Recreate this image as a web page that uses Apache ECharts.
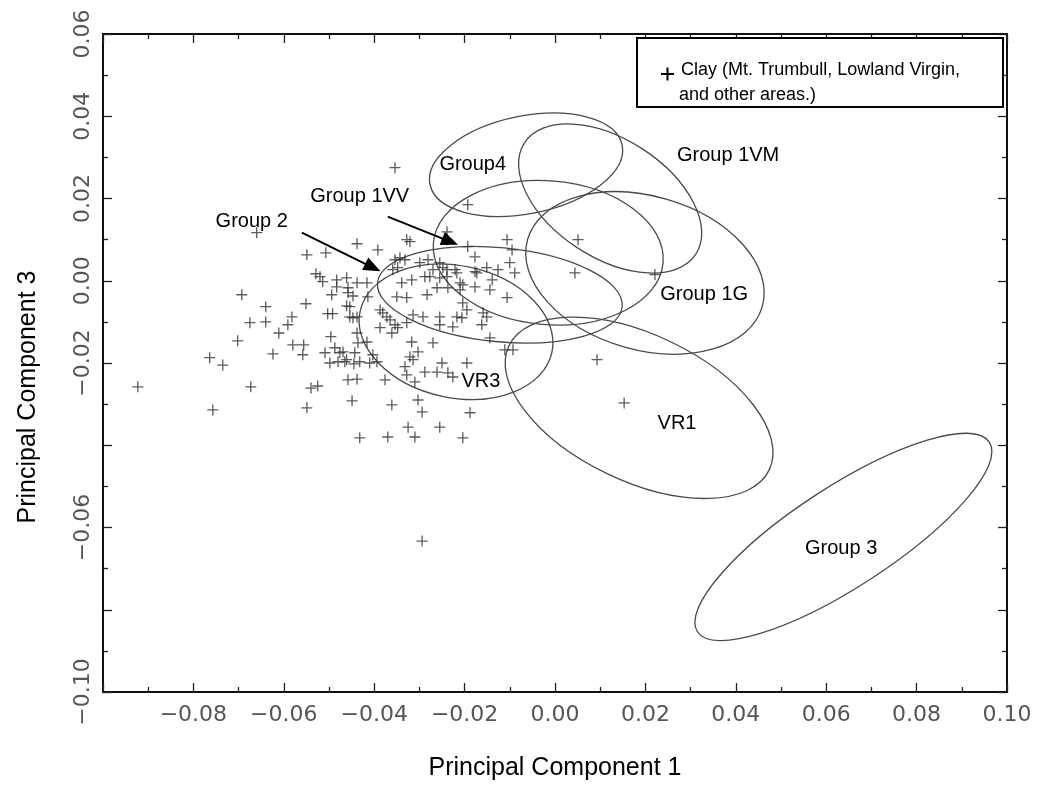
<!DOCTYPE html>
<html><head><meta charset="utf-8">
<script src="https://cdn.jsdelivr.net/npm/echarts@6/dist/echarts.min.js"></script>
<style>html,body{margin:0;padding:0;background:#fff}#c{width:1037px;height:791px}</style>
</head><body><div id="c"></div>
<script>
// ---- data (Principal Component 1, Principal Component 3) ----
const clayPoints = [
[-0.0923,-0.0258],[-0.0764,-0.0187],[-0.0735,-0.0205],[-0.0757,-0.0314],[-0.0673,-0.0258],[-0.0702,-0.0146],[-0.0693,-0.0034],[-0.0675,-0.0102],[-0.0640,-0.0063],[-0.0640,-0.0100],
[-0.0611,-0.0127],[-0.0624,-0.0178],[-0.0591,-0.0107],[-0.0582,-0.0088],[-0.0580,-0.0156],[-0.0556,-0.0156],[-0.0558,-0.0180],[-0.0551,-0.0056],[-0.0549,0.0063],[-0.0507,0.0068],
[-0.0660,0.0117],[-0.0529,0.0017],[-0.0520,0.0010],[-0.0514,-0.0002],[-0.0483,0.0002],[-0.0483,-0.0015],[-0.0461,0.0007],[-0.0494,-0.0034],[-0.0458,-0.0029],[-0.0447,-0.0037],
[-0.0461,-0.0061],[-0.0503,-0.0080],[-0.0492,-0.0080],[-0.0454,-0.0088],[-0.0438,-0.0088],[-0.0496,-0.0136],[-0.0487,-0.0163],[-0.0509,-0.0175],[-0.0476,-0.0175],[-0.0498,-0.0200],
[-0.0480,-0.0197],[-0.0465,-0.0197],[-0.0443,-0.0175],[-0.0445,-0.0202],[-0.0540,-0.0261],[-0.0525,-0.0256],[-0.0549,-0.0309],[-0.0458,-0.0241],[-0.0438,-0.0239],[-0.0449,-0.0292],
[-0.0438,0.0090],[-0.0438,-0.0127],
[-0.0193,0.0185],[-0.0239,0.0119],[-0.0239,0.0100],[-0.0106,0.0100],[-0.0095,0.0075],[-0.0193,0.0083],[-0.0177,0.0058],[-0.0392,0.0075],[-0.0328,0.0100],[-0.0321,0.0095],
[-0.0438,-0.0005],[-0.0416,-0.0005],[-0.0354,0.0051],[-0.0343,0.0056],[-0.0332,0.0051],[-0.0359,0.0027],[-0.0348,0.0032],[-0.0299,0.0044],[-0.0281,0.0051],[-0.0270,0.0027],
[-0.0255,0.0044],[-0.0248,0.0032],[-0.0239,0.0027],[-0.0221,0.0027],[-0.0217,0.0019],[-0.0177,0.0022],[-0.0173,0.0019],[-0.0151,0.0032],[-0.0126,0.0027],[-0.0100,0.0044],
[-0.0089,0.0019],[-0.0339,-0.0005],[-0.0317,0.0002],[-0.0288,0.0010],[-0.0277,0.0010],[-0.0255,0.0007],[-0.0239,0.0010],[-0.0210,-0.0005],[-0.0204,-0.0010],[-0.0177,-0.0015],
[-0.0139,0.0002],[-0.0458,-0.0017],[-0.0414,-0.0039],[-0.0350,-0.0039],[-0.0328,-0.0041],[-0.0283,-0.0034],[-0.0261,-0.0017],[-0.0237,-0.0017],[-0.0210,-0.0022],[-0.0144,-0.0022],
[-0.0106,-0.0041],[-0.0454,-0.0063],[-0.0387,-0.0071],[-0.0381,-0.0078],[-0.0314,-0.0083],[-0.0292,-0.0088],[-0.0255,-0.0088],[-0.0204,-0.0054],[-0.0195,-0.0071],[-0.0217,-0.0088],
[-0.0206,-0.0090],[-0.0159,-0.0078],[-0.0151,-0.0088],[-0.0162,-0.0107],[-0.0447,-0.0090],[-0.0372,-0.0088],[-0.0365,-0.0095],[-0.0354,-0.0107],[-0.0348,-0.0114],[-0.0387,-0.0114],
[-0.0328,-0.0102],[-0.0255,-0.0107],[-0.0226,-0.0112],[-0.0144,-0.0139],[-0.0111,-0.0168],[-0.0093,-0.0168],[-0.0436,-0.0151],[-0.0416,-0.0149],[-0.0361,-0.0127],[-0.0317,-0.0149],
[-0.0303,-0.0173],[-0.0270,-0.0151],[-0.0469,-0.0173],[-0.0403,-0.0180],[-0.0394,-0.0197],[-0.0321,-0.0185],[-0.0314,-0.0192],[-0.0461,-0.0192],[-0.0432,-0.0197],[-0.0410,-0.0200],
[-0.0332,-0.0209],[-0.0250,-0.0200],[-0.0195,-0.0200],[-0.0288,-0.0222],[-0.0261,-0.0222],[-0.0237,-0.0224],[-0.0226,-0.0234],[-0.0376,-0.0241],[-0.0328,-0.0229],[-0.0310,-0.0246],
[-0.0303,-0.0290],[-0.0361,-0.0302],[-0.0294,-0.0319],[-0.0188,-0.0321],[-0.0325,-0.0356],[-0.0310,-0.0380],[-0.0255,-0.0356],[-0.0432,-0.0382],[-0.0370,-0.0380],[-0.0204,-0.0382],
[0.0051,0.0100],[0.0044,0.0019],[0.0093,-0.0192],[0.0221,0.0015],[0.0153,-0.0297],[-0.0294,-0.0633],[-0.0354,0.0275]
];

// confidence ellipses: centre (PC1, PC3), semi-axes (in PC1 units), tilt in degrees
const groupNames      = ['Group4','Group 1VM','Group 1VV','Group 2','Group 1G','VR3','VR1','Group 3'];
const ellipseCenterX  = [-0.0064, 0.0122, -0.0015, -0.0122, 0.0199, -0.0219, 0.0186, 0.0638];
const ellipseCenterY  = [ 0.0282, 0.0200,  0.0068, -0.0034, 0.0019, -0.0124, -0.0309, -0.0623];
const ellipseSemiMajor= [ 0.0217, 0.0226,  0.0255,  0.0272, 0.0270,  0.0217, 0.0319, 0.0385];
const ellipseSemiMinor= [ 0.0108, 0.0131,  0.0159,  0.0104, 0.0170,  0.0146, 0.0162, 0.0111];
const ellipseTilt     = [ 11.6,  -33,     -5,      -5.6,   -16,     -12,    -25.5,   33];

// group label positions
const labelX = [-0.0182, 0.0383, -0.0432, -0.0671, 0.0330, -0.0164, 0.0270, 0.0633];
const labelY = [ 0.0282, 0.0304,  0.0205,  0.0144, -0.0034, -0.0246, -0.0346, -0.0650];

// arrows (start -> end) for Group 2 and Group 1VV
const arrowStart = [[-0.0560, 0.0117], [-0.0370, 0.0156]];
const arrowEnd   = [[-0.0403, 0.0032], [-0.0232, 0.0095]];

// axis ticks
const xMin = -0.10, xMax = 0.10, xStep = 0.02;
const yMin = -0.10, yMax = 0.06, yStep = 0.02;
const xTickLabels = ['−0.08','−0.06','−0.04','−0.02','0.00','0.02','0.04','0.06','0.08','0.10'];
const yTickLabels = ['0.06','0.04','0.02','0.00','−0.02','−0.06','−0.10'];

function fmt(v){ return (v < -1e-9 ? '−' : '') + Math.abs(v).toFixed(2); }
function labelFor(list){ return v => { const s = fmt(v); return list.indexOf(s) >= 0 ? s : ''; }; }

const tickFont = {fontFamily:'DejaVu Sans', fontSize:22, color:'#555'};
const axisCommon = {
  axisLine:{show:true, onZero:false, lineStyle:{color:'#111', width:2}},
  axisTick:{show:true, inside:true, length:9, lineStyle:{color:'#222', width:1.3}},
  minorTick:{show:true, splitNumber:2, length:5, lineStyle:{color:'#222', width:1.3}},
  splitLine:{show:false}
};

const chart = echarts.init(document.getElementById('c'));
chart.setOption({
  backgroundColor:'#fff',
  animation:false,
  grid:{left:103, right:30, top:34, bottom:99},
  xAxis:[
    Object.assign({type:'value', min:xMin, max:xMax, interval:xStep, position:'bottom',
      name:'Principal Component 1', nameLocation:'middle', nameGap:64,
      nameTextStyle:{fontFamily:'Liberation Sans', fontSize:25, color:'#000'},
      axisLabel:Object.assign({margin:12, formatter:labelFor(xTickLabels)}, tickFont)}, axisCommon),
    Object.assign({type:'value', min:xMin, max:xMax, interval:xStep, position:'top',
      axisLabel:{show:false}}, axisCommon)
  ],
  yAxis:[
    Object.assign({type:'value', min:yMin, max:yMax, interval:yStep, position:'left',
      name:'Principal Component 3', nameLocation:'middle', nameGap:62,
      nameTextStyle:{fontFamily:'Liberation Sans', fontSize:25, color:'#000', padding:[0,68,0,0]},
      axisLabel:Object.assign({margin:9, rotate:90, formatter:labelFor(yTickLabels)}, tickFont)}, axisCommon),
    Object.assign({type:'value', min:yMin, max:yMax, interval:yStep, position:'right',
      axisLabel:{show:false}}, axisCommon)
  ],
  series:[
    {
      type:'custom', name:'ellipses', coordinateSystem:'cartesian2d', silent:true, z:2,
      data: groupNames.map((n,i)=>[ellipseCenterX[i], ellipseCenterY[i], ellipseSemiMajor[i], ellipseSemiMinor[i], ellipseTilt[i]]),
      renderItem:function(params, api){
        const c = api.coord([api.value(0), api.value(1)]);
        const rx = api.size([api.value(2), 0])[0];
        const ry = api.size([api.value(3), 0])[0];
        return {type:'ellipse', x:c[0], y:c[1], rotation: api.value(4)*Math.PI/180,
          shape:{cx:0, cy:0, rx:rx, ry:ry},
          style:{fill:'none', stroke:'#4a4a4a', lineWidth:1.3}};
      }
    },
    {
      type:'scatter', name:'Clay', z:3, silent:true,
      symbol:'path://M4.4,0h1.2v4.4h4.4v1.2h-4.4v4.4h-1.2v-4.4h-4.4v-1.2h4.4z',
      symbolSize:11,
      itemStyle:{color:'#333'},
      data: clayPoints,
      markLine:{
        silent:true, animation:false,
        symbol:['none','triangle'], symbolSize:[14,17],
        label:{show:false},
        lineStyle:{color:'#000', width:2, type:'solid'},
        data: arrowStart.map((s,i)=>[{coord:s},{coord:arrowEnd[i]}])
      }
    },
    {
      type:'custom', name:'labels', coordinateSystem:'cartesian2d', silent:true, z:4,
      data: groupNames.map((n,i)=>[labelX[i], labelY[i]]),
      renderItem:function(params, api){
        const c = api.coord([api.value(0), api.value(1)]);
        return {type:'text', x:c[0], y:c[1],
          style:{text:groupNames[params.dataIndex], fill:'#000',
            font:'20px "Liberation Sans"', align:'center', verticalAlign:'middle'}};
      }
    }
  ],
  graphic:[
    {type:'rect', z:100, shape:{x:637, y:38, width:366, height:69},
      style:{fill:'#fff', stroke:'#000', lineWidth:2}},
    {type:'rect', z:101, shape:{x:661, y:73, width:13, height:2}, style:{fill:'#000'}},
    {type:'rect', z:101, shape:{x:666.5, y:67.5, width:2, height:13}, style:{fill:'#000'}},
    {type:'text', z:101, x:681, y:70, style:{text:'Clay (Mt. Trumbull, Lowland Virgin,', fill:'#000',
      font:'18px "Liberation Sans"', verticalAlign:'middle', align:'left'}},
    {type:'text', z:101, x:679, y:95, style:{text:'and other areas.)', fill:'#000',
      font:'18px "Liberation Sans"', verticalAlign:'middle', align:'left'}}
  ]
});
</script>
</body></html>
